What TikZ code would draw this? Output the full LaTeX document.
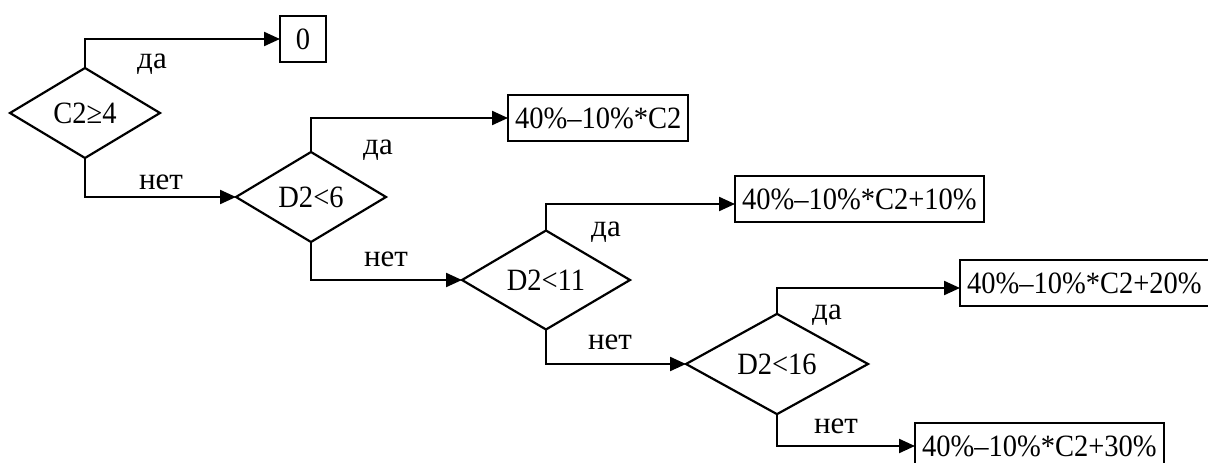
\documentclass[tikz,border=0pt]{standalone}
\usepackage{fontspec}
\setmainfont{Liberation Serif}
\newfontfamily\narrowfont{Liberation Serif}[FakeStretch=0.92]
\usetikzlibrary{shapes.geometric,arrows.meta}
\begin{document}
\begin{tikzpicture}[x=1pt,y=-1pt,
  every node/.style={font=\narrowfont\fontsize{31}{36}\selectfont},
  dec/.style={draw,shape=diamond,line width=2.2pt,inner sep=0pt,outer sep=0pt,minimum height=90pt},
  res/.style={draw,rectangle,line width=2.2pt,inner xsep=7pt,inner ysep=0pt,minimum height=46pt,outer sep=0pt},
  lbl/.style={anchor=base,inner sep=0pt,font=\rmfamily\fontsize{31}{36}\selectfont},
  arr/.style={line width=2.2pt,-{Triangle[length=16pt,width=14pt]}}]
\fill[white] (0,0) rectangle (1208,463);
\useasboundingbox (0,0) rectangle (1208,463);

\node[dec,minimum width=150pt] (d1) at (85,113) {C2≥4};
\node[dec,minimum width=150pt] (d2) at (311,197) {D2<6};
\node[dec,minimum width=168pt] (d3) at (546,280) {D2<11};
\node[dec,minimum width=182pt] (d4) at (777,364) {D2<16};

\node[res,anchor=west,minimum width=46pt] (b0) at (280,39) {0};
\node[res,anchor=west] (b1) at (508,118) {40\%–10\%*C2};
\node[res,anchor=west] (b2) at (735,199) {40\%–10\%*C2+10\%};
\node[res,anchor=west] (b3) at (960,283) {40\%–10\%*C2+20\%};
\node[res,anchor=west] (b4) at (915,446) {40\%–10\%*C2+30\%};

\draw[arr] (d1.north) |- (b0.west);
\draw[arr] (d2.north) |- (b1.west);
\draw[arr] (d3.north) |- ([yshift=-5pt]b2.west);
\draw[arr] (d4.north) |- ([yshift=-5pt]b3.west);
\draw[arr] (d1.south) |- (d2.west);
\draw[arr] (d2.south) |- (d3.west);
\draw[arr] (d3.south) |- (d4.west);
\draw[arr] (d4.south) |- (b4.west);

\node[lbl] (l1y) at (152,68) {да};
\node[lbl] (l1n) at (161,189) {нет};
\node[lbl] (l2y) at (378,154) {да};
\node[lbl] (l2n) at (386,266) {нет};
\node[lbl] (l3y) at (606,236) {да};
\node[lbl] (l3n) at (610,349) {нет};
\node[lbl] (l4y) at (827,319) {да};
\node[lbl] (l4n) at (836,433) {нет};
\end{tikzpicture}
\end{document}
